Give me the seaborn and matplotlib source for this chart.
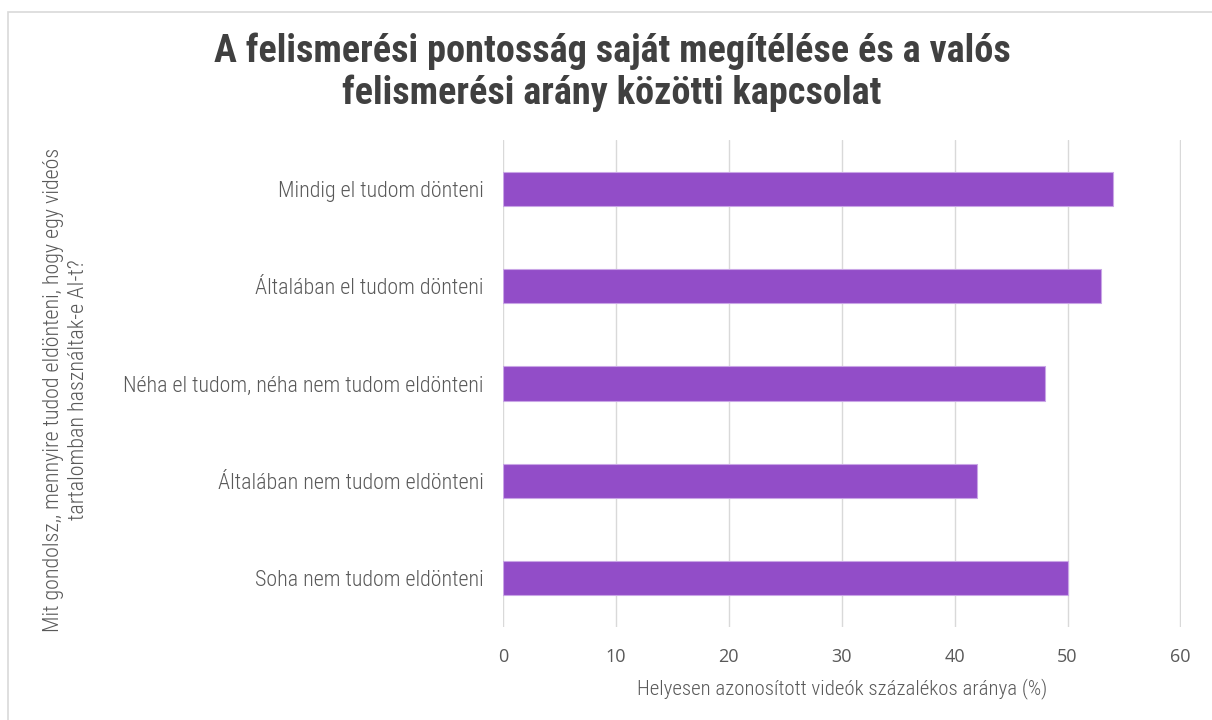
import matplotlib
matplotlib.use("Agg")
import matplotlib.pyplot as plt
import seaborn as sns
import pandas as pd
from matplotlib.patches import Rectangle
from matplotlib import font_manager

categories = [
    "Mindig el tudom dönteni",
    "Általában el tudom dönteni",
    "Néha el tudom, néha nem tudom eldönteni",
    "Általában nem tudom eldönteni",
    "Soha nem tudom eldönteni",
]
values = [54, 53, 48, 42, 50]
xticks = [0, 10, 20, 30, 40, 50, 60]

sns.set_theme(style="white")

names = {f.name for f in font_manager.fontManager.ttflist}
def pick(cands):
    for c in cands:
        if c in names:
            return c
    return "DejaVu Sans"

title_font = pick(["Roboto Condensed", "Barlow Semi Condensed", "IBM Plex Sans Condensed", "Open Sans Condensed"])
label_font = pick(["Roboto Condensed", "Barlow Condensed", "IBM Plex Sans Condensed"])
num_font = pick(["Open Sans", "Noto Sans"])
plt.rcParams["font.family"] = [label_font, "DejaVu Sans"]

df = pd.DataFrame({"cat": categories, "val": values})

fig = plt.figure(figsize=(12.12, 7.2), dpi=100)
ax = fig.add_axes([503/1212, 1 - 627/720, (1181-503)/1212, (627-140)/720])

sns.barplot(data=df, y="cat", x="val", orient="h", color="#924DC8",
            width=0.35, saturation=1, ax=ax, edgecolor="#C9A6E6", linewidth=0.8)

ax.set_xlim(0, 60.05)
ax.set_xticks(xticks)
ax.set_xticklabels([str(t) for t in xticks], fontsize=13, color="#595959",
                   family=[num_font, "DejaVu Sans"])
ax.tick_params(axis="x", length=0, pad=15)
ax.tick_params(axis="y", length=0, pad=14)
for lab in ax.get_yticklabels():
    lab.set_fontsize(15.8)
    lab.set_color("#595959")
    lab.set_fontweight("light")
ax.grid(axis="x", color="#D9D9D9", linewidth=1)
ax.set_axisbelow(True)
for s in ax.spines.values():
    s.set_visible(False)
ax.set_xlabel("Helyesen azonosított videók százalékos aránya (%)", fontsize=15,
              color="#595959", labelpad=9, fontweight="light")
ax.set_ylabel("")

fig.text(66/1212, 1 - 390/720,
         "Mit gondolsz,, mennyire tudod eldönteni, hogy egy videós\ntartalomban használtak-e AI-t?",
         rotation=90, ha="center", va="center", fontsize=15.8, color="#595959",
         multialignment="center", fontweight="light")

fig.text(612/1212, 1 - 72/720,
         "A felismerési pontosság saját megítélése és a valós\nfelismerési arány közötti kapcsolat",
         ha="center", va="center", fontsize=27.5, fontweight="bold", color="#404040",
         linespacing=1.15, family=[title_font, "DejaVu Sans"])

fig.patches.append(Rectangle((8/1212, -0.01), 1.0, 1 - 12/720 + 0.01,
                             transform=fig.transFigure, fill=False,
                             edgecolor="#D9D9D9", linewidth=1.2))

fig.savefig("out.png", dpi=100, facecolor="white")
